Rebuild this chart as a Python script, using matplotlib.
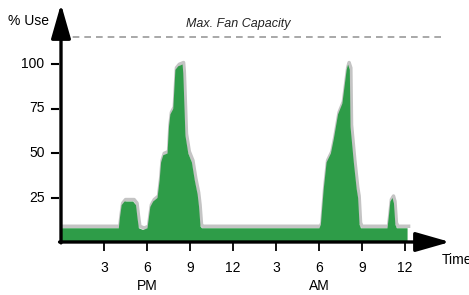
import matplotlib
matplotlib.use("Agg")
import matplotlib.pyplot as plt
import matplotlib.transforms as mtransforms

plt.rcParams['font.family'] = ['Liberation Sans', 'DejaVu Sans']

# ================================
# DATA (hours after noon, % use)
# ================================
hours = [0, 4.0, 4.08, 4.2, 4.4, 5.0, 5.2, 5.3, 5.4, 5.7, 6.0, 6.1, 6.2, 6.4, 6.7,
         6.85, 6.95, 7.1, 7.4, 7.5, 7.6, 7.8, 7.95, 8.15, 8.45, 8.5, 8.65, 8.85,
         9.1, 9.3, 9.5, 9.6, 9.7, 9.8, 18.0, 18.1, 18.3, 18.5, 18.8, 19.0, 19.3,
         19.6, 19.9, 20.0, 20.12, 20.17, 20.4, 20.6, 20.7, 20.8, 20.9, 22.75,
         22.85, 22.95, 23.1, 23.2, 23.3, 23.4, 24.15]
use = [8, 8, 14, 21, 23, 23, 21, 14, 8, 7, 8, 14, 20, 23, 25,
       35, 45, 49, 50, 65, 72, 75, 97, 99, 100, 95, 60, 50,
       45, 35, 27, 20, 9, 8, 8, 10, 30, 45, 50, 58, 72,
       78, 97, 100, 97, 65, 45, 30, 25, 10, 8, 8,
       15, 23, 25, 22, 10, 8, 8]

y_ticks = [25, 50, 75, 100]
x_ticks = [3, 6, 9, 12, 15, 18, 21, 24]
x_labels = ["3", "6", "9", "12", "3", "6", "9", "12"]
fan_capacity = 115

# ================================
# FIGURE
# ================================
W, H = 469, 295
fig = plt.figure(figsize=(W / 100, H / 100), dpi=100)
x0, y0, x1, y1 = 61, 242, 450, 4
ax = fig.add_axes([x0 / W, (H - y0) / H, (x1 - x0) / W, (y0 - y1) / H])
xmax = (x1 - x0) / 14.33
ymax = (y0 - y1) / 1.78
ax.set_xlim(0, xmax)
ax.set_ylim(0, ymax)
for s in ax.spines.values():
    s.set_visible(False)

# shadow outline, shifted up/right
shift = mtransforms.ScaledTranslation(1.5 / 100, 1.5 / 100, fig.dpi_scale_trans)
ax.plot(hours, use, color='#c4c4c4', lw=2.5, transform=ax.transData + shift, zorder=1)
ax.fill_between(hours, use, 0, color='#2e9c48', lw=0, zorder=2)

# max fan capacity
ax.axhline(fan_capacity, xmin=0, xmax=(445 - x0) / (x1 - x0), color='#999999',
           lw=1.2, ls=(0, (4, 3)), zorder=1)
ax.text(12.4, fan_capacity + 4, "Max. Fan Capacity", style='italic', fontsize=9,
        ha='center', va='bottom', color='#222222')

# axes with arrows
arrow = dict(arrowstyle='-|>,head_length=2.1,head_width=0.6', lw=2.4, color='black',
             shrinkA=0, shrinkB=0)
ax.annotate('', xy=(0, ymax), xytext=(0, -0.5), arrowprops=arrow, annotation_clip=False, zorder=5)
ax.annotate('', xy=(xmax, 0), xytext=(-0.1, 0), arrowprops=arrow, annotation_clip=False, zorder=5)

# y ticks: small dashes detached from the axis
ax.set_yticks([])
for v in y_ticks:
    ax.plot([-0.63, -0.2], [v, v], color='black', lw=1.5, clip_on=False)
    ax.text(-1.15, v, str(v), ha='right', va='center', fontsize=10)

# x ticks
ax.set_xticks(x_ticks)
ax.set_xticklabels(x_labels, fontsize=10)
ax.tick_params(axis='x', direction='out', length=6.5, width=1.3, pad=7)

ax.text(6, -25, "PM", ha='center', va='center', fontsize=10)
ax.text(18, -25, "AM", ha='center', va='center', fontsize=10)
ax.text(xmax - 0.55, -10, "Time", ha='left', va='center', fontsize=10)
ax.text(-3.7, 124, "% Use", ha='left', va='center', fontsize=10)

fig.savefig("out.png", dpi=100)
